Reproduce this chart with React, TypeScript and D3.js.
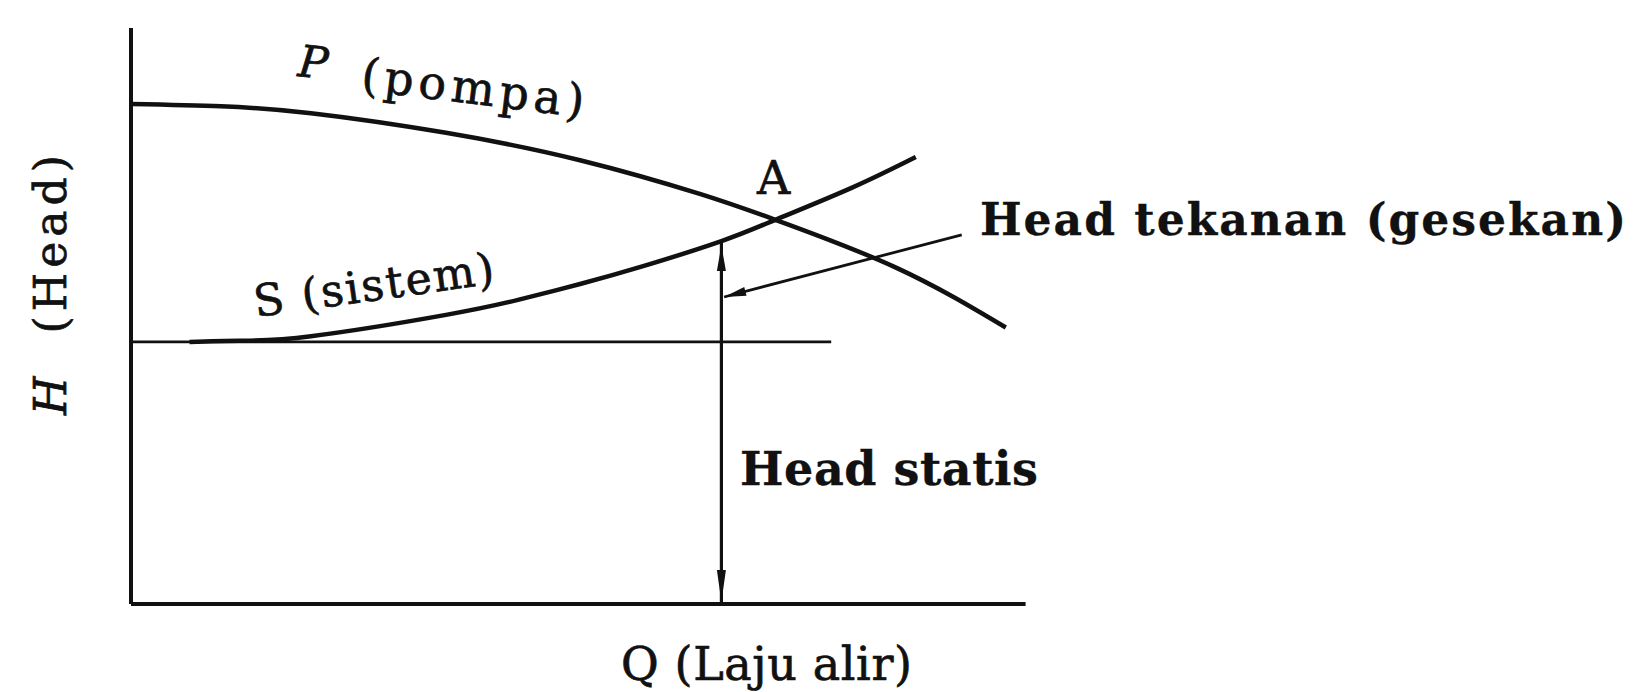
import React from 'react';
import * as d3 from 'd3';

// Pump characteristic curve P (data units 0..100)
const pumpQ = [0, 10, 20, 35, 50, 63.2, 71.6, 85, 97.2];
const pumpH = [86.8, 86.4, 85.2, 81.8, 77.0, 71.2, 66.7, 58.4, 48.0];

// System curve S
const sysQ = [6.5, 12, 20, 35, 43, 50, 57, 65.6, 71.6, 80, 87.2];
const sysH = [45.5, 45.7, 46.5, 50.2, 52.8, 55.6, 58.7, 63.0, 66.7, 72.2, 77.6];

// Static head line and annotation geometry (data units)
const staticHead = [45.5];
const staticEndQ = [77.8];
const operatingQ = [65.6];
const operatingSysH = [63.0];
const leaderFromQH = [92.3, 64.1];
const leaderToQH = [65.9, 53.3];
const axisMax = [99.4, 100];

const INK = '#111';
const FONT = '"DejaVu Serif", serif';

function arrowHead(tx: number, ty: number, fx: number, fy: number, len: number, hw: number) {
  const dx = tx - fx, dy = ty - fy;
  const d = Math.sqrt(dx * dx + dy * dy);
  const ux = dx / d, uy = dy / d;
  const bx = tx - ux * len, by = ty - uy * len;
  const px = -uy, py = ux;
  return `M${tx},${ty}L${bx + px * hw},${by + py * hw}L${bx - px * hw},${by - py * hw}Z`;
}

export default function App() {
  const W = 1634, H = 692;
  const x = d3.scaleLinear().domain([0, 100]).range([131, 1031]);
  const y = d3.scaleLinear().domain([0, 100]).range([604, 28]);
  const line = d3.line<[number, number]>().x(d => x(d[0])).y(d => y(d[1])).curve(d3.curveNatural);

  const pumpPts = pumpQ.map((q, i) => [q, pumpH[i]] as [number, number]);
  const sysPts = sysQ.map((q, i) => [q, sysH[i]] as [number, number]);

  const vx = x(operatingQ[0]);
  const vTop = y(operatingSysH[0]);
  const vBot = y(0);
  const lfx = x(leaderFromQH[0]), lfy = y(leaderFromQH[1]);
  const ltx = x(leaderToQH[0]), lty = y(leaderToQH[1]);

  return (
    <svg width={W} height={H} style={{ position: 'absolute', left: 0, top: 0, background: '#fff' }}>
      <rect x={0} y={0} width={W} height={H} fill="#fff" />
      {/* axes */}
      <line x1={x(0)} y1={y(0)} x2={x(0)} y2={y(axisMax[1])} stroke={INK} strokeWidth={4} />
      <line x1={x(0)} y1={y(0)} x2={x(axisMax[0])} y2={y(0)} stroke={INK} strokeWidth={4} />
      {/* static head line */}
      <line x1={x(0)} y1={y(staticHead[0])} x2={x(staticEndQ[0])} y2={y(staticHead[0])} stroke={INK} strokeWidth={2.6} />
      {/* curves */}
      <path d={line(pumpPts) || ''} fill="none" stroke={INK} strokeWidth={4.5} />
      <path d={line(sysPts) || ''} fill="none" stroke={INK} strokeWidth={4.5} />
      {/* vertical double arrow */}
      <line x1={vx} y1={vTop} x2={vx} y2={vBot} stroke={INK} strokeWidth={3.2} />
      <path d={arrowHead(vx, vTop + 4, vx, vTop + 40, 26, 4.5)} fill={INK} />
      <path d={arrowHead(vx, vBot - 2, vx, vBot - 40, 32, 4.5)} fill={INK} />
      {/* leader */}
      <line x1={lfx} y1={lfy} x2={ltx} y2={lty} stroke={INK} strokeWidth={2.8} />
      <path d={arrowHead(ltx, lty, lfx, lfy, 22, 4.5)} fill={INK} />

      {/* labels */}
      <g fill={INK} fontFamily={FONT} stroke={INK} strokeWidth={0.7}>
        <text transform="translate(297,76) rotate(6)" fontSize={44} fontStyle="italic">P</text>
        <text transform="translate(360,90) rotate(7)" fontSize={46} textLength={224} lengthAdjust="spacing">(pompa)</text>
        <text transform="translate(256,317) rotate(-8)" fontSize={44} textLength={242} lengthAdjust="spacing">S (sistem)</text>
        <text x={757} y={194} fontSize={46}>A</text>
        <text x={980} y={235} fontSize={44} fontWeight="bold" strokeWidth={0.3} textLength={646} lengthAdjust="spacing">Head tekanan (gesekan)</text>
        <text x={740} y={485} fontSize={46} fontWeight="bold" strokeWidth={0.3} textLength={298} lengthAdjust="spacing">Head statis</text>
        <text x={621} y={680} fontSize={46} textLength={291} lengthAdjust="spacing">Q (Laju alir)</text>
        <text transform="translate(66,415) rotate(-90)" fontSize={44} textLength={260} lengthAdjust="spacing">
          <tspan fontStyle="italic">H</tspan>
          <tspan>{'\u00a0\u00a0(Head)'}</tspan>
        </text>
      </g>
    </svg>
  );
}
